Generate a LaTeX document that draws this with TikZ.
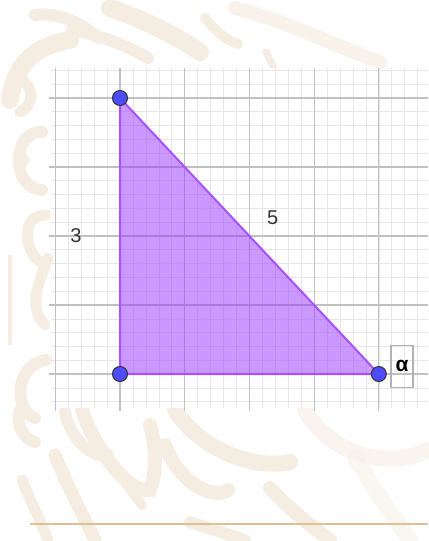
\documentclass[tikz,border=0pt]{standalone}
\usepackage{fontspec}
\setmainfont{Liberation Sans}
\definecolor{arena}{RGB}{245,237,225}
\definecolor{zoom}{RGB}{222,192,150}
\definecolor{driehoek}{RGB}{153,51,255}
\definecolor{punt}{RGB}{77,77,255}
\definecolor{hoofdlijn}{RGB}{192,192,192}
\definecolor{hulplijn}{RGB}{230,230,230}
\tikzset{
  vlek/.style={arena, line width=14pt, line cap=round},
  hoekpunt/.style={circle, draw=black!80, fill=punt, line width=1pt, minimum size=15pt, inner sep=0pt},
  zijde/.style={font=\fontsize{20}{20}\selectfont, text=black!80},
}
\begin{document}
\begin{tikzpicture}[x=64.7pt, y=69pt]
  % achtergrond, in pixels
  \begin{scope}[shift={(-120pt,374pt)}, x=1pt, y=-1pt]
    \useasboundingbox (0,0) rectangle (428,541);
    % boven
    \draw[vlek, line width=18pt] (10,100) .. controls (15,60) and (40,45) .. (70,40);
    \draw[vlek, line width=12pt] (35,15) .. controls (60,12) and (85,25) .. (98,38);
    \draw[vlek, line width=12pt] (72,30) .. controls (100,35) and (125,45) .. (148,58);
    \draw[vlek, line width=18pt] (110,8) .. controls (140,18) and (175,35) .. (200,52);
    \draw[vlek, line width=10pt] (205,18) .. controls (215,30) and (225,40) .. (238,44);
    \draw[vlek, line width=14pt, opacity=0.7] (235,8) .. controls (290,22) and (340,48) .. (380,62);
    \draw[vlek, line width=7pt] (266,52) -- (274,68);
    % links
    \draw[vlek, line width=11pt] (18,78) .. controls (35,85) and (35,105) .. (20,112);
    \draw[vlek, line width=12pt] (42,132) .. controls (12,130) and (10,188) .. (42,190);
    \fill[arena] (22,160) circle (7pt);
    \draw[vlek, line width=11pt] (46,215) .. controls (20,215) and (24,250) .. (40,262);
    \draw[vlek, line width=11pt] (48,258) .. controls (35,290) and (30,310) .. (45,325);
    \draw[arena, line width=4pt] (10,255) -- (10,345);
    \draw[vlek, line width=12pt] (46,360) .. controls (14,365) and (14,410) .. (35,418);
    % onder
    \draw[vlek, line width=12pt] (20,410) .. controls (15,425) and (25,440) .. (35,442);
    \draw[vlek, line width=11pt] (22,480) .. controls (30,500) and (40,520) .. (48,540);
    \draw[vlek, line width=13pt] (55,455) .. controls (65,480) and (80,510) .. (95,540);
    \draw[vlek, line width=12pt] (65,412) .. controls (70,440) and (95,460) .. (108,455);
    \draw[vlek, line width=14pt] (82,410) .. controls (95,450) and (130,495) .. (150,490) .. controls (158,470) and (155,440) .. (150,425);
    \draw[vlek, line width=10pt] (122,478) -- (142,505);
    \draw[vlek, line width=14pt] (165,445) .. controls (180,485) and (215,500) .. (228,490);
    \draw[vlek, line width=16pt] (175,410) .. controls (200,450) and (255,470) .. (290,462);
    \draw[vlek, line width=12pt] (190,522) -- (245,540);
    \draw[vlek, line width=14pt] (270,488) .. controls (290,510) and (310,525) .. (330,540);
    \draw[vlek, line width=16pt, opacity=0.6] (305,410) .. controls (330,455) and (390,470) .. (427,450);
    \draw[vlek, line width=16pt, opacity=0.5] (355,458) .. controls (375,490) and (395,520) .. (410,540);
    % rooster wit
    \fill[white] (54,68) rectangle (428,408);
    \draw[zoom, line width=1.2pt] (30,524) -- (428,524);
  \end{scope}
  % rooster
  \foreach \i in {-5,...,23}
    \draw[hulplijn, line width=0.6pt] (\i/5,-0.49) -- (\i/5,4.43);
  \foreach \j in {-2,...,22}
    \draw[hulplijn, line width=0.6pt] (-1.06,\j/5) -- (4.76,\j/5);
  \foreach \i in {-1,...,4}
    \draw[hoofdlijn, line width=1.1pt] (\i,-0.53) -- (\i,4.43);
  \foreach \j in {0,...,4}
    \draw[hoofdlijn, line width=1.1pt] (-1.1,\j) -- (4.76,\j);
  % driehoek
  \coordinate (A) at (0,4);
  \coordinate (B) at (0,0);
  \coordinate (C) at (4,0);
  \fill[driehoek, fill opacity=0.5] (A) -- (B) -- (C) -- cycle;
  \draw[driehoek!85!white, line width=2pt] (A) -- (B) -- (C) -- cycle;
  \foreach \p in {A,B,C}
    \node[hoekpunt] (p\p) at (\p) {};
  \node[zijde] (drie) at (-0.68,2.0) {3};
  \node[zijde] (vijf) at (2.36,2.26) {5};
  \node[draw=black!30, line width=1.3pt, minimum width=22pt, minimum height=42pt, inner sep=0pt,
        font=\bfseries\fontsize{21}{21}\selectfont] (alfa) at (4.36,0.11) {α};
\end{tikzpicture}
\end{document}
